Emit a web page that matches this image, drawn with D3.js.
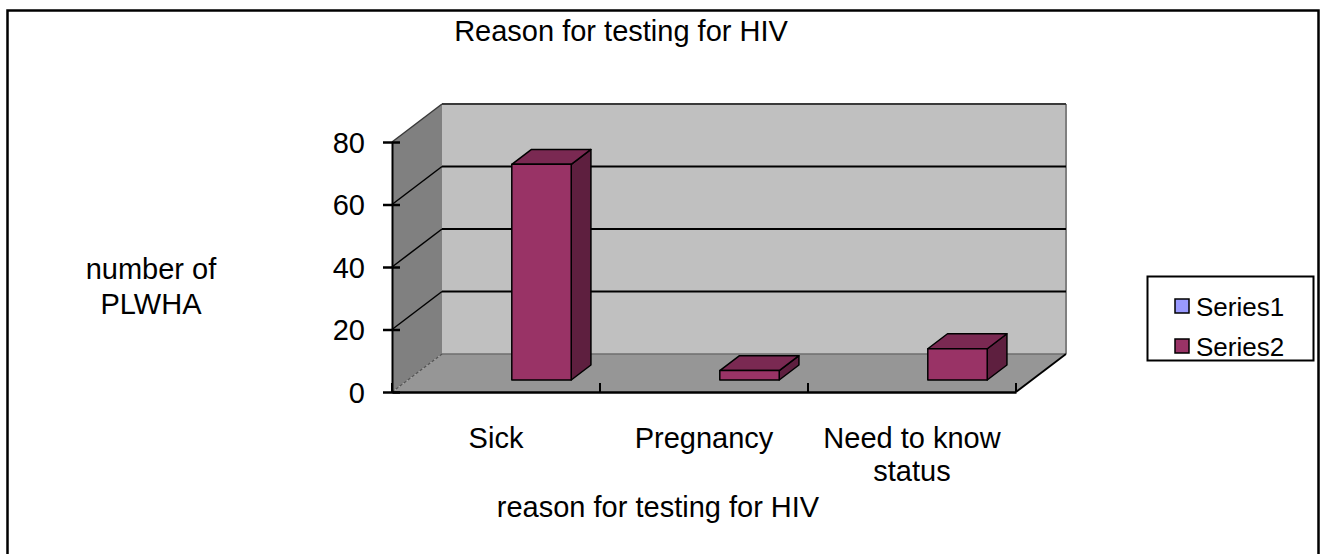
<!DOCTYPE html>
<html>
<head>
<meta charset="utf-8">
<script src="https://cdn.jsdelivr.net/npm/d3@7"></script>
<style>
    body { margin: 0; background: #fff; }
    svg { display: block; }
    text { font-family: "Liberation Sans", Arial, sans-serif; fill: #000; }
</style>
</head>
<body>
<div id="chart"></div>
<script>
'use strict';

// values
const categories = ['Sick', 'Pregnancy', 'Need to know\nstatus'];
const seriesNames = ['Series1', 'Series2'];
const series1Values = [0, 0, 0];
const series2Values = [69, 3, 10];
const yTicks = [0, 20, 40, 60, 80];

const palette = {
    series1: '#9999ff',
    series2: '#993366',
    series2Top: '#7a2952',
    series2Side: '#5e1f3f',
    backWall: '#c0c0c0',
    sideWall: '#808080',
    floor: '#969696'
};

const width = 1326, height = 554;
const plot = { left: 392, right: 1016, top: 142, bottom: 392 };
const depth = { dx: 50, dy: -38 };
const barDepth = [0.316, 0.71];
const fontSize = 29;

const svg = d3.select('#chart').append('svg')
    .attr('width', width)
    .attr('height', height);

// outer frame
svg.append('rect')
    .attr('x', 7.5).attr('y', 10.5)
    .attr('width', 1311).attr('height', 570)
    .attr('fill', 'none')
    .attr('stroke', '#000')
    .attr('stroke-width', 2.5);

const scaleX = d3.scaleBand()
    .domain(d3.range(categories.length))
    .range([plot.left, plot.right]);

const scaleSeries = d3.scaleBand()
    .domain(seriesNames)
    .range([0, scaleX.bandwidth()])
    .paddingInner(0)
    .paddingOuter(0.75);

const scaleY = d3.scaleLinear()
    .domain([0, 80])
    .range([plot.bottom, plot.top]);

// front-plane x, value, depth (0 front .. 1 back)
const pt = (x, v, z) => [x + z * depth.dx, scaleY(v) + z * depth.dy];
const poly = pts => pts.map(p => p.join(',')).join(' ');

const walls = svg.append('g').classed('walls', true);
const yMax = scaleY.domain()[1];

walls.append('polygon')
    .attr('points', poly([pt(plot.left, 0, 1), pt(plot.right, 0, 1), pt(plot.right, yMax, 1), pt(plot.left, yMax, 1)]))
    .attr('fill', palette.backWall);

walls.append('polygon')
    .attr('points', poly([pt(plot.left, 0, 0), pt(plot.left, 0, 1), pt(plot.left, yMax, 1), pt(plot.left, yMax, 0)]))
    .attr('fill', palette.sideWall);

walls.append('polygon')
    .attr('points', poly([pt(plot.left, 0, 0), pt(plot.right, 0, 0), pt(plot.right, 0, 1), pt(plot.left, 0, 1)]))
    .attr('fill', palette.floor);

const line = (g, a, b, colour, w, dash) => g.append('line')
    .attr('x1', a[0]).attr('y1', a[1])
    .attr('x2', b[0]).attr('y2', b[1])
    .attr('stroke', colour)
    .attr('stroke-width', w)
    .attr('stroke-dasharray', dash || null);

// wall edges
line(walls, pt(plot.right, 0, 1), pt(plot.right, yMax, 1), '#808080', 2);
line(walls, pt(plot.left, 0, 1), pt(plot.right, 0, 1), '#6e6e6e', 1.5);
line(walls, pt(plot.left, 0, 0), pt(plot.left, 0, 1), '#555', 1.2, '3,2');
line(walls, pt(plot.right, 0, 0), pt(plot.right, 0, 1), '#000', 1.8);

// gridlines on side and back walls
yTicks.filter(v => v > 0).forEach(v => {
    let colour = v === yMax ? '#3a3a3a' : '#000';
    line(walls, pt(plot.left, v, 0), pt(plot.left, v, 1), colour, 1.5);
    line(walls, pt(plot.left, v, 1), pt(plot.right, v, 1), colour, 1.8);
});

// bars
const barsGroup = svg.append('g').classed('bars', true);
const seriesData = [
    { name: 'Series1', values: series1Values, front: palette.series1, top: palette.series1, side: palette.series1 },
    { name: 'Series2', values: series2Values, front: palette.series2, top: palette.series2Top, side: palette.series2Side }
];

categories.forEach((c, i) => {
    seriesData.forEach(s => {
        let v = s.values[i];
        if (!(v > 0)) return;
        let x0 = scaleX(i) + scaleSeries(s.name);
        let x1 = x0 + scaleSeries.bandwidth();
        let [z0, z1] = barDepth;
        let faces = [
            { pts: [pt(x1, 0, z0), pt(x1, 0, z1), pt(x1, v, z1), pt(x1, v, z0)], fill: s.side },
            { pts: [pt(x0, v, z0), pt(x1, v, z0), pt(x1, v, z1), pt(x0, v, z1)], fill: s.top },
            { pts: [pt(x0, 0, z0), pt(x1, 0, z0), pt(x1, v, z0), pt(x0, v, z0)], fill: s.front }
        ];
        faces.forEach(f => {
            barsGroup.append('polygon')
                .attr('points', poly(f.pts))
                .attr('fill', f.fill)
                .attr('stroke', '#000')
                .attr('stroke-width', 1.5)
                .attr('stroke-linejoin', 'round');
        });
    });
});

// y axis
const yAxis = d3.axisLeft(scaleY)
    .tickValues(yTicks)
    .tickSizeInner(9)
    .tickSizeOuter(0)
    .tickPadding(18);

const axisYGroup = svg.append('g')
    .classed('axis axis-y', true)
    .attr('transform', `translate(${plot.left}, 0)`)
    .call(yAxis)
    .attr('font-size', fontSize)
    .attr('font-family', '"Liberation Sans", Arial, sans-serif');

axisYGroup.select('.domain').attr('stroke', '#000').attr('stroke-width', 2);
axisYGroup.selectAll('.tick line').attr('x1', 8).attr('stroke', '#000').attr('stroke-width', 2.5);
axisYGroup.selectAll('.tick text').attr('dy', '0.36em');

// x axis
const xAxis = d3.axisBottom(scaleX)
    .tickSize(0)
    .tickPadding(35)
    .tickFormat(() => '');

const axisXGroup = svg.append('g')
    .classed('axis axis-x', true)
    .attr('transform', `translate(0, ${plot.bottom})`)
    .call(xAxis)
    .attr('font-size', fontSize)
    .attr('font-family', '"Liberation Sans", Arial, sans-serif');

axisXGroup.select('.domain').attr('stroke', '#000').attr('stroke-width', 2.5);

axisXGroup.selectAll('.tick text').each(function (d) {
    let lines = categories[d].split('\n');
    let t = d3.select(this).attr('dy', null);
    lines.forEach((l, k) => {
        t.append('tspan')
            .attr('x', 0)
            .attr('dy', k === 0 ? '0.71em' : '1.15em')
            .text(l);
    });
});

d3.range(categories.length + 1).forEach(i => {
    let x = i < categories.length ? scaleX(i) : plot.right;
    axisXGroup.append('line')
        .attr('x1', x).attr('x2', x)
        .attr('y1', 0).attr('y2', -9)
        .attr('stroke', '#000')
        .attr('stroke-width', 2);
});

// titles
svg.append('text')
    .attr('x', 621).attr('y', 41)
    .attr('text-anchor', 'middle')
    .style('font-size', fontSize + 'px')
    .text('Reason for testing for HIV');

svg.append('text')
    .attr('x', 658).attr('y', 517)
    .attr('text-anchor', 'middle')
    .style('font-size', fontSize + 'px')
    .text('reason for testing for HIV');

svg.append('text')
    .attr('text-anchor', 'middle')
    .style('font-size', fontSize + 'px')
    .selectAll('tspan')
    .data(['number of', 'PLWHA'])
    .join('tspan')
    .attr('x', 151)
    .attr('y', (d, k) => 279 + k * 35)
    .text(d => d);

// legend
const legend = svg.append('g').classed('legend', true);
legend.append('rect')
    .attr('x', 1147.5).attr('y', 276.5)
    .attr('width', 166).attr('height', 84)
    .attr('fill', '#fff')
    .attr('stroke', '#000')
    .attr('stroke-width', 2);

seriesData.forEach((s, k) => {
    let y = 299 + k * 40;
    legend.append('rect')
        .attr('x', 1175).attr('y', y)
        .attr('width', 14).attr('height', 14)
        .attr('fill', s.front)
        .attr('stroke', '#000')
        .attr('stroke-width', 1.5);
    legend.append('text')
        .attr('x', 1196).attr('y', y + 8)
        .attr('dy', '0.36em')
        .style('font-size', '26px')
        .text(s.name);
});
</script>
</body>
</html>
